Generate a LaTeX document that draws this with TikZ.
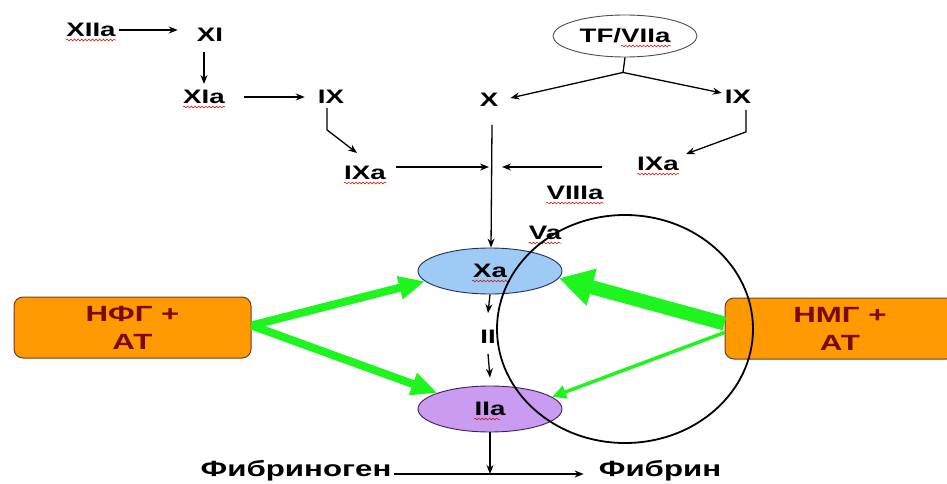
\documentclass[tikz,border=0pt]{standalone}
\usepackage{fontspec}
\setmainfont{Liberation Sans}
\usetikzlibrary{arrows.meta,decorations.pathmorphing,shapes.geometric}

\definecolor{boxorange}{HTML}{FF9900}
\definecolor{boxedge}{HTML}{6E3B2E}
\definecolor{boxtext}{HTML}{7A0A0A}
\definecolor{xafill}{HTML}{9DCBF5}
\definecolor{xaedge}{HTML}{1F2F5A}
\definecolor{iiafill}{HTML}{C99CF2}
\definecolor{iiaedge}{HTML}{3A1F5A}
\definecolor{actgreen}{HTML}{1EF51E}

% wide bold lettering
\newcommand\wide[1]{\scalebox{1.42}[1]{#1}}

\begin{document}
\begin{tikzpicture}[x=1pt,y=-1pt,
  lbl/.style={inner sep=0pt, font=\bfseries\fontsize{19.5}{21}\selectfont},
  bigl/.style={inner sep=0pt, font=\bfseries\fontsize{22}{24}\selectfont},
  oval/.style={ellipse, draw, line width=0.9pt, inner sep=0pt,
    minimum width=144pt, minimum height=46pt,
    font=\bfseries\fontsize{19.5}{21}\selectfont},
  drug/.style={draw=boxedge, line width=1pt, fill=boxorange, rounded corners=9pt,
    minimum height=61pt, text=boxtext, align=center, inner sep=0pt,
    font=\bfseries\fontsize{22}{28}\selectfont},
  flow/.style={line width=1.3pt, -{Stealth[length=9pt,width=7pt]}},
  plain/.style={line width=1.3pt},
  gthick/.style={draw=actgreen, line width=8pt, -{Triangle[length=26pt,width=22pt]}},
  gheavy/.style={draw=actgreen, line width=14pt, -{Triangle[length=34pt,width=36pt]}},
  gthin/.style={draw=actgreen, line width=3.5pt, -{Triangle[length=14pt,width=13pt]}},
  spell/.style={draw=red!85!black, line width=0.5pt, decorate,
    decoration={snake, amplitude=0.9pt, segment length=3.6pt}}
]
\useasboundingbox (0,0) rectangle (947,484);
\clip (0,0) rectangle (947,484);

% intrinsic pathway
\node[lbl] (xiia) at (91,30) {\wide{XIIa}};
\node[lbl] (xi)   at (210,35) {\wide{XI}};
\node[lbl] (xia)  at (204,97) {\wide{XIa}};
\node[lbl] (ixl)  at (331,97) {\wide{IX}};
\node[lbl] (ixal) at (365,173) {\wide{IXa}};

% extrinsic pathway
\node[oval, draw=black!70, minimum width=144pt, minimum height=42pt] (tf) at (625,36) {\wide{TF/VIIa}};
\node[lbl] (x)    at (489,100) {\wide{X}};
\node[lbl] (ixr)  at (738,97) {\wide{IX}};
\node[lbl] (ixar) at (658,164) {\wide{IXa}};

% cofactors and common pathway
\node[lbl] (viiia) at (575,193) {\wide{VIIIa}};
\node[lbl] (va)    at (545,233) {\wide{Va}};
\node[oval, fill=xafill, draw=xaedge] (xa) at (490,271) {\wide{Xa}};
\node[lbl] (ii)    at (488,337) {\wide{II}};
\node[oval, fill=iiafill, draw=iiaedge] (iia) at (490,409) {\wide{IIa}};
\node[bigl] (fg) at (296,471) {\wide{Фибриноген}};
\node[bigl] (fb) at (660,471) {\wide{Фибрин}};

% heparins with antithrombin
\node[drug, minimum width=237pt] (nfg) at (132.5,327.5) {\wide{НФГ +}\\\wide{АТ}};
\node[drug, minimum width=230pt] (nmg) at (840,328.5) {\wide{НМГ +}\\\wide{АТ}};

% intrinsic connectors
\draw[flow] ([shift={(3,0)}]xiia.east) -- ([shift={(-19,0)}]xi.west |- xiia.east);
\draw[flow] ([shift={(0,10)}]xi.south -| xia.north) -- ([shift={(0,-6)}]xia.north);
\draw[flow] ([shift={(19,0)}]xia.east) -- ([shift={(-13,0)}]ixl.west);
\draw[flow] ([shift={(-4,4)}]ixl.south) -- ++(0,22) -- ([shift={(-8,-13)}]ixal.north);

% extrinsic connectors
\draw[plain] (tf.south) -- ++(-2,15) coordinate (tfj);
\draw[flow] (tfj) -- ([shift={(12,-2)}]x.east);
\draw[flow] (tfj) -- ([shift={(-3,-4)}]ixr.west);
\draw[flow] ([shift={(8,6)}]ixr.south) -- ++(0,22) -- ([shift={(7,-3)}]ixar.north east);

% convergence on factor X
\draw[flow] ([shift={(3,18)}]x.south) -- ([shift={(1,0)}]xa.north);
\draw[flow] ([shift={(10,-6)}]ixal.east) -- ([shift={(-1,-6)}]ixal.east -| xa.north);
\draw[flow] ([shift={(-35,3)}]ixar.west) -- ([shift={(12,3)}]ixar.west -| xa.north);

% common pathway
\draw[flow] (xa.south) -- ([shift={(0,-17)}]ii.north);
\draw[flow] ([shift={(0,10)}]ii.south) -- ([shift={(0,-8)}]iia.north);
\coordinate (fgl) at ([shift={(2,3)}]fg.east);
\draw[flow] (iia.south) -- (iia.south |- fgl);
\draw[flow] (fgl) -- ([shift={(-15,3)}]fb.west);

% inhibition by the heparins
\draw[gthick] ([shift={(0,-2)}]nfg.east) -- (xa.189);
\draw[gthick] ([shift={(0,-2)}]nfg.east) -- (iia.163);
\draw[gheavy] ([shift={(0,-5)}]nmg.west) -- (xa.-6);
\draw[gthin]  ([shift={(0,4)}]nmg.west) -- (iia.11);

% wavy underlines
\foreach \n in {xiia,xia,ixal,ixar,viiia,va}
  \draw[spell] ([shift={(0,3)}]\n.south west) -- ([shift={(0,3)}]\n.south east);
\draw[spell] ([shift={(-4,10)}]tf.center) -- ([shift={(46,10)}]tf.center);
\draw[spell] ([shift={(-18,10)}]xa.center) -- ([shift={(20,10)}]xa.center);
\draw[spell] ([shift={(-16,10)}]iia.center) -- ([shift={(10,10)}]iia.center);

% highlighting circle
\draw[line width=1.8pt] (625,329) ellipse [x radius=128, y radius=114];
\end{tikzpicture}
\end{document}
